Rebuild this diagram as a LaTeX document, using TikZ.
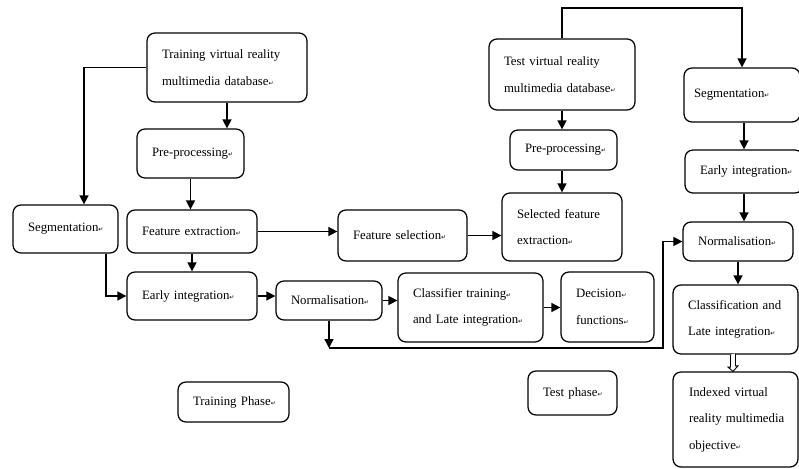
\documentclass[tikz,border=0pt]{standalone}
\usepackage{fontspec}
\setmainfont{Liberation Serif}
\newfontfamily\symf{DejaVu Sans}
\usetikzlibrary{arrows.meta,calc}
\newcommand\rmk{{\symf\fontsize{6}{6}\selectfont ↵}}
\begin{document}
\begin{tikzpicture}[x=1pt,y=-1pt,
  box/.style={draw, line width=1.25pt, rounded corners=8pt, inner xsep=15pt, inner ysep=2pt,
    align=left, font=\fontsize{12.8}{26.5}\selectfont},
  arr/.style={line width=1.5pt, -{Triangle[length=9pt,width=9pt]}},
  hollow/.style={line width=0.9pt, fill=white, line join=miter}]
\fill[white] (0,0) rectangle (799,468);
\useasboundingbox (0,0) rectangle (799,468);
% training phase
\node[box, minimum width=160pt, minimum height=69pt, text width=130pt] (tdb) at (227,67.5) {\mbox{Training virtual reality}\\\mbox{multimedia database\rmk}};
\node[box, minimum width=107pt, minimum height=49pt, text width=77pt] (tpre) at (190.5,153.5) {\mbox{Pre-processing\rmk}};
\node[box, minimum width=105pt, minimum height=48pt, text width=75pt] (lseg) at (65.5,229) {\mbox{Segmentation\rmk}};
\node[box, minimum width=130pt, minimum height=43pt, text width=100pt] (fext) at (192,231.5) {\mbox{Feature extraction\rmk}};
\node[box, minimum width=129pt, minimum height=51pt, text width=99pt] (fsel) at (402.5,235.5) {\mbox{Feature selection\rmk}};
\node[box, minimum width=130pt, minimum height=48pt, text width=100pt] (lei) at (192,296) {\mbox{Early integration\rmk}};
\node[box, minimum width=106pt, minimum height=39pt, text width=76pt] (lnorm) at (329,300.5) {\mbox{Normalisation\rmk}};
\node[box, minimum width=145pt, minimum height=69pt, text width=115pt] (ctr) at (470.5,307.5) {\mbox{Classifier training\rmk}\\\mbox{and Late integration\rmk}};
\node[box, minimum width=93pt, minimum height=70pt, text width=63pt] (dec) at (607.5,307) {\mbox{Decision\rmk}\\\mbox{functions\rmk}};
\node[box, minimum width=111pt, minimum height=40pt, text width=81pt] (trp) at (233.5,402) {\mbox{Training Phase\rmk}};
% test phase
\node[box, minimum width=146pt, minimum height=71pt, text width=116pt] (xdb) at (562,74.5) {\mbox{Test virtual reality}\\\mbox{multimedia database\rmk}};
\node[box, minimum width=107pt, minimum height=40pt, text width=77pt] (xpre) at (563.5,150) {\mbox{Pre-processing\rmk}};
\node[box, minimum width=120pt, minimum height=68pt, text width=90pt] (sfe) at (562,227) {\mbox{Selected feature}\\\mbox{extraction\rmk}};
\node[box, minimum width=89pt, minimum height=44pt, text width=59pt] (tsp) at (572.5,393) {\mbox{Test phase\rmk}};
\node[box, minimum width=116pt, minimum height=54pt, text width=96pt, inner xsep=10pt] (rseg) at (742,95) {\mbox{Segmentation\rmk}};
\node[box, minimum width=118pt, minimum height=43pt, text width=88pt] (rei) at (744,171.5) {\mbox{Early integration\rmk}};
\node[box, minimum width=110pt, minimum height=39pt, text width=80pt] (rnorm) at (738,241.5) {\mbox{Normalisation\rmk}};
\node[box, minimum width=125pt, minimum height=69pt, text width=95pt] (rcls) at (735.5,319.5) {\mbox{Classification and}\\\mbox{Late integration\rmk}};
\node[box, minimum width=125pt, minimum height=95pt, text width=93pt, inner xsep=16pt] (idx) at (735.5,419.5) {\mbox{Indexed virtual}\\\mbox{reality multimedia}\\\mbox{objective\rmk}};
% coordinates
\coordinate (k1) at (84,0);
\coordinate (bend) at (663,348);
\coordinate (top) at (0,8);
% training connectors
\draw[arr] (tdb.south) -- (tdb.south |- tpre.north);
\draw[arr] (tdb.west) -| (k1 |- lseg.north);
\draw[arr] (tpre.south) -- (tpre.south |- fext.north);
\draw[arr] (fext.east) -- (fext.east -| fsel.west);
\draw[arr] (fext.south) -- (lei.north);
\draw[arr] ([xshift=40.5pt]lseg.south) |- (lei.west);
\draw[arr] (lei.east) -- (lei.east -| lnorm.west);
\draw[arr] (lnorm.east) -- (lnorm.east -| ctr.west);
\draw[arr] (ctr.east) -- (ctr.east -| dec.west);
\draw[arr] (lnorm.south) -- (lnorm.south |- bend);
\draw[arr] (lnorm.south |- bend) -- (bend) |- (rnorm.west);
\draw[arr] (fsel.east) -- (fsel.east -| sfe.west);
% test connectors
\draw[arr] (xdb.south) -- (xdb.south |- xpre.north);
\draw[arr] (xdb.south |- xpre.south) -- (xdb.south |- sfe.north);
\draw[arr] (xdb.north) -- (xdb.north |- top) -| (rseg.north);
\draw[arr] (rei.north |- rseg.south) -- (rei.north);
\draw[arr] (rei.south) -- (rei.south |- rnorm.north);
\draw[arr] (rnorm.south) -- (rnorm.south |- rcls.north);
% hollow double arrow
\draw[hollow] ([xshift=-5pt]rcls.south) -- ++(0,12.5) -- ++(-2.5,0) -- ([xshift=-2.5pt]idx.north) -- ++(5,-5.5) -- ++(-2.5,0) -- ++(0,-12.5);
\end{tikzpicture}
\end{document}
